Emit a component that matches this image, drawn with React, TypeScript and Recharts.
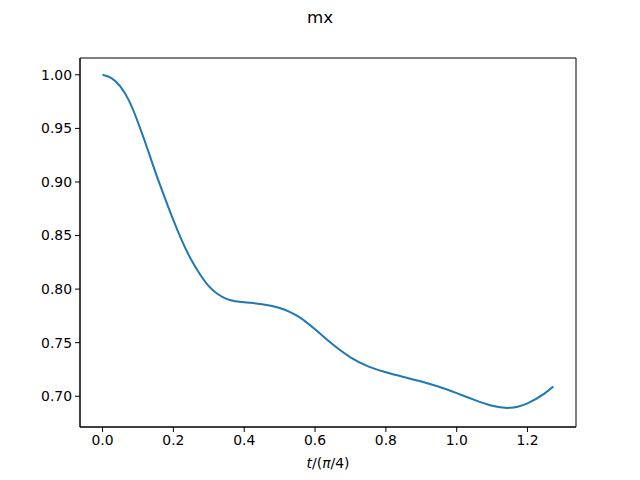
import { LineChart, Line, XAxis, YAxis, ReferenceArea } from "recharts";

// time in units of pi/4
const tValues = [
  0, 0.025, 0.05, 0.075, 0.1, 0.125, 0.15, 0.175, 0.2, 0.225, 0.25, 0.275, 0.3,
  0.325, 0.35, 0.375, 0.4, 0.425, 0.45, 0.475, 0.5, 0.525, 0.55, 0.575, 0.6,
  0.625, 0.65, 0.7, 0.75, 0.8, 0.85, 0.9, 0.95, 1.0, 1.05, 1.1, 1.15, 1.2, 1.25,
  1.273,
];
const mxValues = [
  1.0, 0.998, 0.99, 0.977, 0.956, 0.933, 0.908, 0.886, 0.864, 0.844, 0.827,
  0.8136, 0.802, 0.795, 0.7905, 0.7885, 0.7877, 0.787, 0.786, 0.7847, 0.7825,
  0.7794, 0.7752, 0.7694, 0.7625, 0.7553, 0.7483, 0.7355, 0.7275, 0.7222, 0.718,
  0.714, 0.709, 0.703, 0.6965, 0.6905, 0.688, 0.6925, 0.7025, 0.7092,
];
const xTicks = [0, 0.2, 0.4, 0.6, 0.8, 1.0, 1.2];
const yTicks = [0.7, 0.75, 0.8, 0.85, 0.9, 0.95, 1.0];

const xDomain = [-0.0637, 1.3369];
const yDomain = [0.6713, 1.0157];

const data = tValues.map((t, i) => ({ t, mx: mxValues[i] }));

const font = "'DejaVu Sans', sans-serif";
const tickStyle = { fill: "#000", fontSize: 13.9, fontFamily: font };

export default function App() {
  return (
    <div
      style={{
        position: "absolute",
        left: 0,
        top: 0,
        width: 640,
        height: 480,
        background: "#fff",
        fontFamily: font,
      }}
    >
      <div
        style={{
          position: "absolute",
          top: 7,
          width: 640,
          textAlign: "center",
          fontSize: 16.7,
          color: "#000",
        }}
      >
        mx
      </div>
      <LineChart
        width={640}
        height={480}
        data={data}
        margin={{ top: 58, right: 64, left: 0, bottom: 0 }}
      >
        <XAxis
          dataKey="t"
          type="number"
          domain={xDomain}
          ticks={xTicks}
          allowDataOverflow
          tickFormatter={(v: number) => v.toFixed(1)}
          height={53}
          tickSize={5}
          tickMargin={3}
          stroke="#000"
          tick={tickStyle}
        />
        <YAxis
          type="number"
          domain={yDomain}
          ticks={yTicks}
          allowDataOverflow
          tickFormatter={(v: number) => v.toFixed(2)}
          width={80}
          tickSize={5}
          tickMargin={3}
          stroke="#000"
          tick={tickStyle}
        />
        <ReferenceArea
          x1={xDomain[0]}
          x2={xDomain[1]}
          y1={yDomain[0]}
          y2={yDomain[1]}
          fill="none"
          stroke="#000"
          strokeWidth={1}
          ifOverflow="visible"
        />
        <Line
          type="basis"
          dataKey="mx"
          stroke="#1f77b4"
          strokeWidth={2}
          dot={false}
          isAnimationActive={false}
        />
      </LineChart>
      <div
        style={{
          position: "absolute",
          top: 455,
          left: 0,
          width: 656,
          textAlign: "center",
          fontSize: 13.9,
          color: "#000",
        }}
      >
        <i>t</i>/(<i>π</i>/4)
      </div>
    </div>
  );
}
